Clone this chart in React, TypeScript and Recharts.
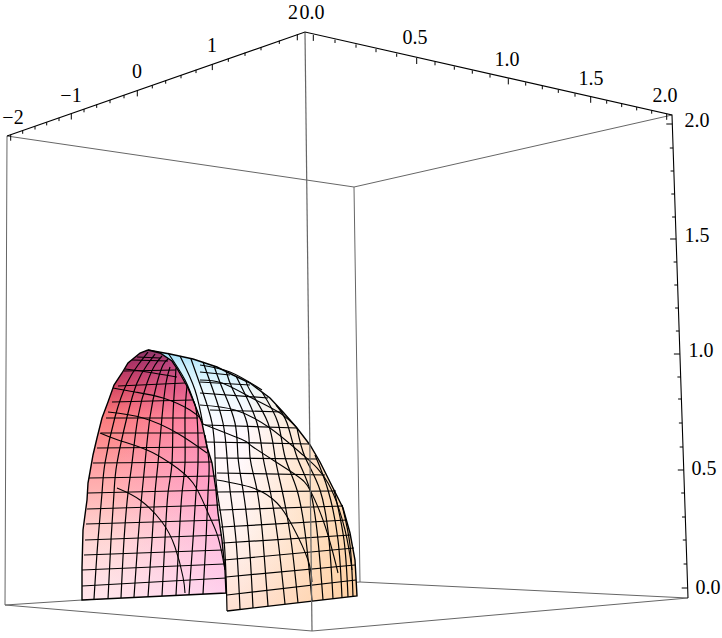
import React from 'react';
import { ScatterChart, Scatter, XAxis, YAxis } from 'recharts';

type Pt = number[];

const boxBack: Pt[][] = [
  [[7, 136], [354, 187], [672, 115]],
  [[354, 187], [360, 582], [688, 598]],
  [[7, 136], [5, 605], [360, 582]],
  [[5, 605], [312, 631], [688, 598]],
];
const boxFront: Pt[] = [[305, 33], [312, 631]];
const axisEdges: Pt[][] = [
  [[7, 136], [305, 32], [672, 115], [688, 598]],
];

const ticksY: Pt[] = [[10.7, 134.7], [22.7, 130.5], [35, 126.2], [46.7, 122.1], [59, 117.8], [71.3, 113.5], [84, 109], [96.7, 104.6], [110, 99.9], [124, 95], [137.3, 90.4], [152.3, 85.1], [165.7, 80.4], [181, 75], [196, 69.8], [212.3, 64.1], [228.3, 58.5], [245, 52.6], [261, 47], [279.3, 40.6], [297.3, 34.3]];
const ticksX: Pt[] = [[313.3, 34.9], [335, 39.7], [356, 44.4], [376, 48.9], [396.7, 53.5], [416.7, 58], [435, 62], [454.3, 66.4], [472.3, 70.4], [490, 74.3], [508.3, 78.4], [525.7, 82.3], [542.3, 86], [558.3, 89.6], [575, 93.4], [590.7, 96.8], [606.7, 100.4], [621.7, 103.8], [636.7, 107.1], [651.7, 110.4], [666.7, 113.8]];
const ticksZ: Pt[] = [[672.3, 124], [673.1, 148], [673.9, 171], [674.6, 194], [675.4, 217], [676.1, 239], [676.9, 262], [677.6, 285], [678.4, 308], [679.2, 331], [679.9, 354], [680.7, 377], [681.4, 399], [682.2, 423], [683, 447], [683.8, 470], [684.5, 493], [685.3, 517], [686.1, 540], [686.9, 564], [687.7, 588]];

const labelTexts = ['\u22122', '\u22121', '0', '1', '2', '0.0', '0.5', '1.0', '1.5', '2.0', '2.0', '1.5', '1.0', '0.5', '0.0'];
const labelSpots: Pt[] = [[13, 117], [71, 95], [137, 71], [212, 45], [293, 12], [312, 12], [415, 37], [507, 59], [591, 78], [665, 95], [697, 120], [697, 235], [701, 350], [704, 468], [708, 587]];

const pinkOutline: Pt[] = [[148, 350], [160, 353], [172, 361], [178, 370], [188, 388], [195, 405], [202, 423], [207, 447], [212, 463], [216, 490], [218, 513], [222, 540], [225, 570], [226, 593], [82, 600], [82, 568], [83, 530], [87, 500], [88, 483], [90, 472], [93, 455], [97, 438], [102, 418], [108, 402], [114, 385], [122, 373], [128, 363], [140, 353]];
const domeOutline: Pt[] = [[148, 350], [170, 354], [193, 359], [217, 367], [233, 375], [250, 383], [270, 398], [283, 412], [297, 428], [310, 445], [320, 462], [333, 488], [343, 508], [350, 533], [355, 560], [357, 596], [227, 611], [226, 593], [190, 480], [148, 400]];

const pinkColumns: Pt[][] = [
  [[94, 599], [98, 540], [102, 493], [105, 463], [115, 417], [127, 383], [138, 365], [148, 352]],
  [[108, 599], [111, 540], [114, 493], [117, 463], [127, 417], [137, 383], [147, 365], [155, 354]],
  [[121, 598], [124, 540], [128, 493], [132, 463], [138, 417], [147, 383], [155, 365], [162, 356]],
  [[134, 597], [138, 540], [142, 493], [145, 463], [150, 417], [157, 383], [163, 365], [168, 359]],
  [[148, 597], [152, 540], [155, 493], [158, 463], [162, 417], [166, 383], [170, 367]],
  [[162, 596], [165, 540], [168, 493], [172, 463], [173, 417], [175, 383], [176, 368]],
  [[176, 595], [179, 540], [182, 493], [185, 463], [185, 417], [187, 386]],
  [[189, 595], [193, 540], [196, 493], [198, 463], [197, 417], [193, 400]],
  [[203, 594], [206, 540], [208, 493], [209, 463], [205, 435]],
];
const pinkRows: Pt[][] = [
  [[82, 586], [226, 578]], [[82, 570], [224, 564]], [[84, 555], [223, 550]], [[85, 540], [222, 535]],
  [[86, 524], [220, 520]], [[87, 509], [219, 505]], [[88, 493], [217, 490]], [[89, 478], [216, 476]],
  [[93, 463], [212, 462]], [[97, 448], [207, 447]], [[101, 433], [203, 433]], [[106, 418], [198, 418]],
  [[112, 402], [192, 400]], [[118, 386], [185, 383]], [[124, 371], [176, 370]], [[132, 360], [168, 361]],
];
const pinkArcs: Pt[][] = [
  [[117, 488], [140, 500], [162, 522], [175, 547], [183, 577], [185, 593]],
  [[100, 433], [118, 440], [147, 450], [170, 463], [193, 483], [208, 513], [218, 537], [225, 570]],
  [[108, 412], [143, 418], [177, 433], [207, 453]],
  [[113, 388], [135, 392], [163, 398], [190, 410], [202, 420]],
  [[125, 369], [147, 372], [177, 377]],
  [[137, 357], [160, 358]],
];

const domeColumns: Pt[][] = [
  [[168, 353], [185, 380], [195, 405]],
  [[180, 356], [195, 390], [203, 425]],
  [[191, 359], [202, 390], [212, 423], [215, 457], [217, 490], [224, 540], [227, 611]],
  [[203, 362], [213, 390], [223, 423], [227, 457], [230, 490], [236, 540], [240, 609]],
  [[214, 366], [223, 390], [235, 423], [238, 457], [243, 490], [249, 540], [253, 608]],
  [[226, 371], [233, 390], [247, 423], [250, 457], [257, 490], [263, 540], [268, 606]],
  [[236, 376], [243, 390], [257, 423], [263, 457], [270, 490], [278, 540], [285, 604]],
  [[246, 381], [251, 392], [268, 423], [275, 457], [282, 490], [291, 540], [298, 603]],
  [[262, 392], [278, 423], [285, 457], [297, 490], [306, 540], [312, 601]],
  [[276, 405], [287, 423], [297, 457], [310, 490], [318, 540], [323, 600]],
  [[297, 428], [305, 457], [320, 490], [329, 540], [333, 599]],
  [[315, 455], [328, 490], [338, 540], [342, 598]],
  [[334, 490], [344, 540], [348, 597]],
  [[342, 505], [350, 545], [353, 597]],
];
const domeRows: Pt[][] = [
  [[227, 595], [356, 580]], [[226, 577], [355, 565]], [[224, 560], [354, 548]], [[223, 543], [351, 535]],
  [[221, 527], [347, 520]], [[219, 510], [343, 506]], [[217, 492], [336, 491]], [[217, 473], [325, 475]],
  [[215, 458], [317, 459]], [[205, 442], [310, 444]], [[205, 425], [297, 428]], [[210, 410], [283, 412]],
  [[200, 393], [268, 398]], [[200, 382], [250, 385]], [[200, 372], [230, 375]],
];
const domeArcs: Pt[][] = [
  [[217, 480], [253, 488], [277, 503], [293, 527], [308, 560], [312, 582]],
  [[200, 423], [243, 440], [253, 447], [293, 473], [310, 490], [323, 520], [333, 553], [338, 573]],
  [[200, 405], [235, 410], [270, 428], [303, 455], [328, 483], [345, 530], [352, 570]],
  [[200, 380], [222, 383], [250, 397], [280, 413], [297, 428]],
  [[200, 365], [230, 372], [262, 390]],
];

const toRows = (pts: Pt[]) => pts.map(([x, y]) => ({ x, y }));
const noDot = () => <g />;

const Tick = (dx: number, dy: number) => (props: any) => {
  const major = props.payload.major;
  const k = major ? 1 : 0.55;
  return <line x1={props.cx} y1={props.cy} x2={props.cx + dx * k} y2={props.cy + dy * k} stroke="#000" strokeWidth={1} />;
};

const Label = (props: any) => (
  <text x={props.cx} y={props.cy} textAnchor="middle" dominantBaseline="central" fontFamily="Liberation Serif" fontSize={20} fill="#000">
    {props.payload.text}
  </text>
);

const polyline = (pts: Pt[], key: string, stroke: string, width: number, joint: any = 'linear') => (
  <Scatter
    key={key}
    data={toRows(pts)}
    shape={noDot}
    line={{ stroke, strokeWidth: width, fill: 'none' }}
    lineJointType={joint}
    isAnimationActive={false}
  />
);

const polygon = (pts: Pt[], key: string, fill: string) => (
  <Scatter
    key={key}
    data={toRows(pts)}
    shape={noDot}
    line={{ stroke: 'none', fill }}
    lineJointType="linearClosed"
    isAnimationActive={false}
  />
);

const tickSeries = (pts: Pt[], key: string, dx: number, dy: number) => (
  <Scatter
    key={key}
    data={pts.map(([x, y], i) => ({ x, y, major: i % 5 === 0 }))}
    shape={Tick(dx, dy)}
    isAnimationActive={false}
  />
);

export default function App() {
  return (
    <div style={{ position: 'absolute', left: 0, top: 0, background: '#fff' }}>
      <ScatterChart width={722} height={638} margin={{ top: 0, right: 0, bottom: 0, left: 0 }}>
        <defs>
          <linearGradient id="domeV" x1="0" y1="0" x2="0" y2="1">
            <stop offset="0" stopColor="#9adcf8" />
            <stop offset="0.06" stopColor="#c8eefc" />
            <stop offset="0.16" stopColor="#eefaff" />
            <stop offset="0.32" stopColor="#fffaff" />
            <stop offset="0.7" stopColor="#fff2ee" />
            <stop offset="1" stopColor="#ffe0d2" />
          </linearGradient>
          <linearGradient id="domeH" x1="0" y1="0" x2="1" y2="0">
            <stop offset="0.45" stopColor="#ffc88a" stopOpacity="0" />
            <stop offset="1" stopColor="#ffc88a" stopOpacity="0.7" />
          </linearGradient>
          <linearGradient id="pinkV" x1="0" y1="0" x2="0" y2="1">
            <stop offset="0" stopColor="#75244f" />
            <stop offset="0.06" stopColor="#a82c5a" />
            <stop offset="0.16" stopColor="#d94c64" />
            <stop offset="0.26" stopColor="#fb7a7c" />
            <stop offset="0.5" stopColor="#ffa8aa" />
            <stop offset="0.75" stopColor="#ffcfc8" />
            <stop offset="1" stopColor="#ffe0dc" />
          </linearGradient>
          <linearGradient id="pinkH" x1="0" y1="0" x2="1" y2="0">
            <stop offset="0.2" stopColor="#ff8ee6" stopOpacity="0" />
            <stop offset="1" stopColor="#ff8ee6" stopOpacity="0.5" />
          </linearGradient>
          <linearGradient id="pinkFade" x1="0" y1="0" x2="0" y2="1">
            <stop offset="0.55" stopColor="#ffe8f8" stopOpacity="0" />
            <stop offset="1" stopColor="#ffe8f8" stopOpacity="0.55" />
          </linearGradient>
        </defs>
        <XAxis type="number" dataKey="x" domain={[0, 722]} hide />
        <YAxis type="number" dataKey="y" domain={[0, 638]} reversed hide />

        {boxBack.map((p, i) => polyline(p, `back${i}`, '#666', 1))}

        {polygon(domeOutline, 'domeFill', 'url(#domeV)')}
        {polygon(domeOutline, 'domeTint', 'url(#domeH)')}
        {domeRows.map((p, i) => polyline(p, `dr${i}`, '#000', 1.2))}
        {domeColumns.map((p, i) => polyline(p, `dc${i}`, '#000', 1.2, 'natural'))}
        {domeArcs.map((p, i) => polyline(p, `da${i}`, '#000', 1.1, 'natural'))}
        {polyline([...domeOutline.slice(0, 17)], 'domeEdge', '#000', 1.4)}

        {polygon(pinkOutline, 'pinkFill', 'url(#pinkV)')}
        {polygon(pinkOutline, 'pinkTint', 'url(#pinkH)')}
        {polygon(pinkOutline, 'pinkLight', 'url(#pinkFade)')}
        {pinkRows.map((p, i) => polyline(p, `pr${i}`, '#000', 1.2))}
        {pinkColumns.map((p, i) => polyline(p, `pc${i}`, '#000', 1.2, 'natural'))}
        {pinkArcs.map((p, i) => polyline(p, `pa${i}`, '#000', 1.1, 'natural'))}
        {polyline([...pinkOutline, pinkOutline[0]], 'pinkEdge', '#000', 1.4)}

        {polyline(boxFront, 'front', '#666', 1.2)}
        {axisEdges.map((p, i) => polyline(p, `edge${i}`, '#000', 1.1))}
        {tickSeries(ticksY, 'ty', 0, 6)}
        {tickSeries(ticksX, 'tx', 0, 6)}
        {tickSeries(ticksZ, 'tz', -6, 0)}

        <Scatter
          data={labelSpots.map(([x, y], i) => ({ x, y, text: labelTexts[i] }))}
          shape={Label}
          isAnimationActive={false}
        />
      </ScatterChart>
    </div>
  );
}
